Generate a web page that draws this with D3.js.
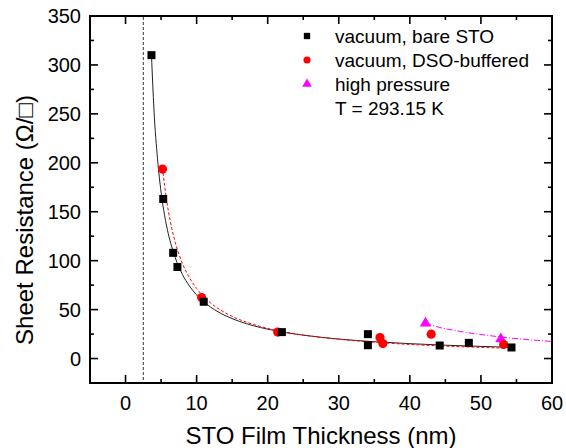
<!DOCTYPE html>
<html>
<head>
<meta charset="utf-8">
<script src="https://cdn.jsdelivr.net/npm/d3@7"></script>
<style>
  body { margin: 0; background: #fff; }
  svg { display: block; font-family: "Liberation Sans", Arial, sans-serif; }
</style>
</head>
<body>
<svg width="566" height="448"></svg>
<script>
// measured points, thickness in nm and sheet resistance in ohm/sq
const bareThickness = [3.65, 5.3, 6.7, 7.3, 11.0, 22.0, 34.1, 34.1, 44.2, 48.3, 54.3];
const bareResistance = [310, 163, 108, 93.5, 58, 27, 24.9, 13.6, 13.3, 16, 11.3];
const dsoThickness = [5.2, 10.7, 21.4, 35.8, 36.2, 43.0, 53.2];
const dsoResistance = [193.6, 62.4, 27, 21.5, 15.3, 24.9, 14.3];
const hpThickness = [42.2, 52.8];
const hpResistance = [36, 20];

// fit curves
const bareFitT = [3.65, 4, 4.5, 5, 5.5, 6, 7, 8, 9, 10, 12, 14, 16, 18, 20, 22, 25, 30, 35, 40, 45, 50, 54.3];
const bareFitR = [310, 254, 204, 170, 146, 128, 103, 86, 74, 65, 52.4, 44, 38, 33.5, 30, 27.1, 23.9, 19.9, 17.2, 15.2, 13.6, 12.4, 11.5];
const dsoFitT = [5.2, 5.5, 6, 6.5, 7, 8, 9, 10, 12, 14, 16, 18, 20, 22, 25, 30, 35, 40, 45, 50, 53];
const dsoFitR = [195, 176.5, 151.8, 133.2, 118.6, 97.3, 82.5, 71.6, 56.6, 46.8, 39.9, 34.8, 30.8, 27.7, 24, 19.7, 16.7, 14.4, 12.7, 11.4, 10.7];
const hpFitT = [42.2, 44, 46, 48, 50, 52, 54, 56, 58, 60];
const hpFitR = [36, 32.1, 29.1, 26.6, 24.5, 22.7, 21.1, 19.7, 18.5, 17.5];

const xTicks = [0, 10, 20, 30, 40, 50, 60];
const yTicks = [0, 50, 100, 150, 200, 250, 300, 350];
const legendLabels = ["vacuum, bare STO", "vacuum, DSO-buffered", "high pressure"];

const svg = d3.select("svg");
const plotL = 90, plotR = 552, plotT = 16, plotB = 383;

const x = d3.scaleLinear().domain([-5, 60]).range([plotL, plotR]);
const y = d3.scaleLinear().domain([-25, 350]).range([plotB, plotT]);

// ticks: major + minor, inward, on all four sides
const g = svg.append("g");
const xMinor = d3.range(-5, 61, 5);
const yMinor = d3.range(-25, 351, 25);

function tickLen(v, step) { return v % step === 0 ? 8 : 4; }

xMinor.forEach(v => {
  const L = tickLen(v, 10);
  g.append("line").attr("x1", x(v)).attr("x2", x(v)).attr("y1", plotB).attr("y2", plotB - L);
  g.append("line").attr("x1", x(v)).attr("x2", x(v)).attr("y1", plotT).attr("y2", plotT + L);
});
yMinor.forEach(v => {
  const L = tickLen(v, 50);
  g.append("line").attr("x1", plotL).attr("x2", plotL + L).attr("y1", y(v)).attr("y2", y(v));
  g.append("line").attr("x1", plotR).attr("x2", plotR - L).attr("y1", y(v)).attr("y2", y(v));
});
g.selectAll("line").attr("stroke", "#000").attr("stroke-width", 1.6);

// tick labels
svg.append("g").selectAll("text").data(xTicks).join("text")
  .attr("x", d => x(d)).attr("y", 410)
  .attr("text-anchor", "middle").attr("font-size", 20).text(d => d);
svg.append("g").selectAll("text").data(yTicks).join("text")
  .attr("x", 81).attr("y", d => y(d) + 7)
  .attr("text-anchor", "end").attr("font-size", 20).text(d => d);

// frame
svg.append("rect").attr("x", plotL).attr("y", plotT)
  .attr("width", plotR - plotL).attr("height", plotB - plotT)
  .attr("fill", "none").attr("stroke", "#000").attr("stroke-width", 2);

// dashed line at dead layer
svg.append("line").attr("x1", x(2.5)).attr("x2", x(2.5))
  .attr("y1", plotT + 1).attr("y2", plotB - 1)
  .attr("stroke", "#333").attr("stroke-width", 1).attr("stroke-dasharray", "3,2");

// fit lines
const line = d3.line().x(d => x(d[0])).y(d => y(d[1])).curve(d3.curveMonotoneX);
const zip = (a, b) => a.map((v, i) => [v, b[i]]);

svg.append("path").datum(zip(hpFitT, hpFitR)).attr("d", line)
  .attr("fill", "none").attr("stroke", "#ff00ff").attr("stroke-width", 1)
  .attr("stroke-dasharray", "6,2,1,2");
svg.append("path").datum(zip(bareFitT, bareFitR)).attr("d", line)
  .attr("fill", "none").attr("stroke", "#222").attr("stroke-width", 1);
svg.append("path").datum(zip(dsoFitT, dsoFitR)).attr("d", line)
  .attr("fill", "none").attr("stroke", "#ff0000").attr("stroke-width", 1)
  .attr("stroke-dasharray", "3,2");

// markers
function markers(tx, ry, type, size, color) {
  svg.append("g").selectAll("path").data(zip(tx, ry)).join("path")
    .attr("transform", d => `translate(${x(d[0])},${y(d[1])})`)
    .attr("d", d3.symbol().type(type).size(size))
    .attr("fill", color);
}
markers(hpThickness, hpResistance, d3.symbolTriangle, 55, "#ff00ff");
markers(dsoThickness, dsoResistance, d3.symbolCircle, 66, "#ff0000");
markers(bareThickness, bareResistance, d3.symbolSquare, 64, "#000");

// legend
const legendTypes = [d3.symbolSquare, d3.symbolCircle, d3.symbolTriangle];
const legendColors = ["#000", "#ff0000", "#ff00ff"];
const leg = svg.append("g");
legendLabels.forEach((lab, i) => {
  const ly = 36 + i * 24;
  leg.append("path").attr("transform", `translate(307,${ly})`)
    .attr("d", d3.symbol().type(legendTypes[i]).size(40)).attr("fill", legendColors[i]);
  leg.append("text").attr("x", 335).attr("y", ly + 7).attr("font-size", 19).text(lab);
});
leg.append("text").attr("x", 335).attr("y", 36 + 3 * 24 + 7).attr("font-size", 19).text("T = 293.15 K");

// axis titles
svg.append("text").attr("x", (plotL + plotR) / 2).attr("y", 444)
  .attr("text-anchor", "middle").attr("font-size", 24).text("STO Film Thickness (nm)");
svg.append("text").attr("transform", "translate(33,220) rotate(-90)")
  .attr("text-anchor", "middle").attr("font-size", 24).text("Sheet Resistance (Ω/□)");
</script>
</body>
</html>
